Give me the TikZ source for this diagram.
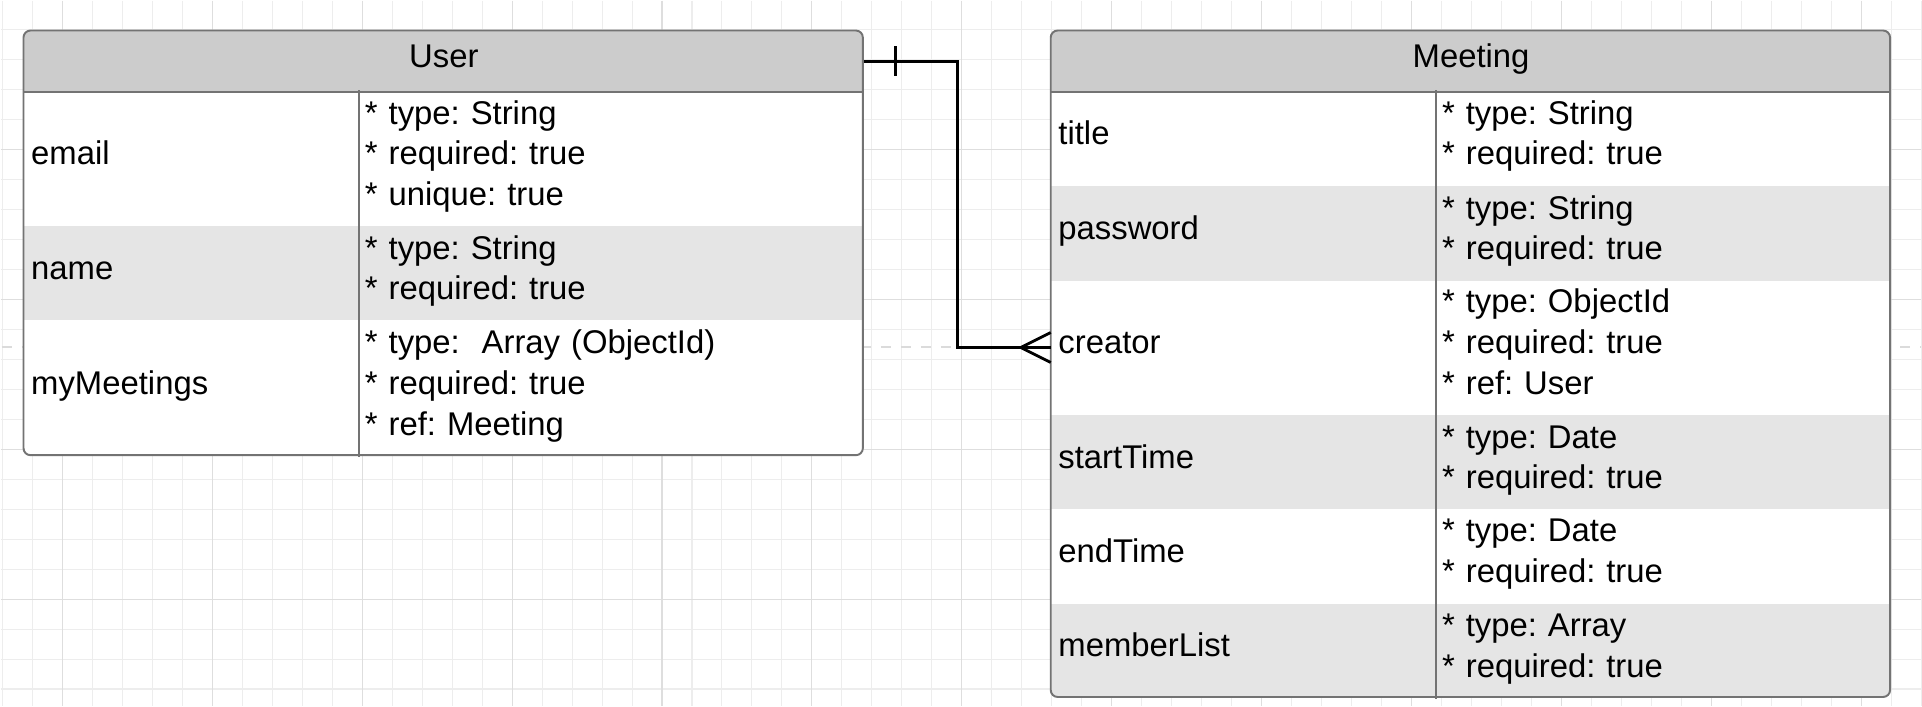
\documentclass[tikz,border=0pt]{standalone}
\usepackage{fontspec}
\setmainfont{Liberation Sans}
\frenchspacing
\begin{document}
\begin{tikzpicture}[x=.1mm, y=-.1mm,
    every node/.style={font=\fontsize{9.35}{11.55}\selectfont},
    ent/.style={draw=black!55, line width=.55pt},
    head/.style={fill=black!20, anchor=north west, inner sep=0, minimum width=84mm, minimum height=6mm, text height=2.4mm, text depth=1.2mm},
    cell/.style={anchor=north west, inner xsep=.7mm, inner ysep=0, align=left},
    ukey/.style={cell, text width=32mm, text height=2.4mm, text depth=1.2mm},
    uval/.style={cell, text width=49.2mm},
    mkey/.style={cell, text width=37mm, text height=2.4mm, text depth=1.2mm},
    mval/.style={cell, text width=44.2mm},
    two/.style={minimum height=9.45mm},
    three/.style={minimum height=13.5mm},
    twolines/.style={text height=0pt, text depth=2.82mm},
    threelines/.style={text height=0pt, text depth=6.9mm},
    shade/.style={fill=black!10},
    rel/.style={line width=.8pt},
    gridline/.style={black!7, line width=.3pt},
    gridmajor/.style={black!13, line width=.3pt}]

    % background and grid
    \fill[white] (0,0) rectangle (1922,706);
    \foreach \gx in {2,32,...,1922} \draw[gridline] (\gx,0) -- (\gx,706);
    \foreach \gy in {29,59,...,706} \draw[gridline] (0,\gy) -- (1922,\gy);
    \foreach \gx in {62,212,...,1922} \draw[gridmajor] (\gx,0) -- (\gx,706);
    \foreach \gy in {149,299,449,599} \draw[gridmajor] (0,\gy) -- (1922,\gy);
    \draw[black!14, line width=.55pt, dash pattern=on 1mm off 1mm] (1,347) -- (1922,347);

    % User
    \begin{scope}
        \clip[rounded corners=.7mm] (23,30) rectangle (863,455);
        \fill[white] (23,30) rectangle (863,455);
        \node[head] (uhead) at (23,30) {User};
        \node[ukey, three] (uemail) at (23,90) {email};
        \node[uval, three, threelines] (uemailv) at (357,90) {* type: String\\{}* required: true\\{}* unique: true};
        \node[ukey, two, shade] (uname) at (23,225) {name};
        \node[uval, two, twolines, shade] (unamev) at (357,225) {* type: String\\{}* required: true};
        \node[ukey, three] (umeet) at (23,320) {myMeetings};
        \node[uval, three, threelines] (umeetv) at (357,320) {* type:~ Array (ObjectId)\\{}* required: true\\{}* ref: Meeting};
    \end{scope}
    \draw[ent, rounded corners=.7mm] (23,30) rectangle (863,455);
    \draw[ent] (uhead.south west) -- (uhead.south east) (uemail.north east) -- (umeet.south east);

    % Meeting
    \begin{scope}
        \clip[rounded corners=.7mm] (1051,30) rectangle (1891,697);
        \fill[white] (1051,30) rectangle (1891,697);
        \node[head] (mhead) at (1051,30) {Meeting};
        \node[mkey, two] (mtitle) at (1051,90) {title};
        \node[mval, two, twolines] (mtitlev) at (1435,90) {* type: String\\{}* required: true};
        \node[mkey, two, shade] (mpass) at (1051,185) {password};
        \node[mval, two, twolines, shade] (mpassv) at (1435,185) {* type: String\\{}* required: true};
        \node[mkey, three] (mcreator) at (1051,279) {creator};
        \node[mval, three, threelines] (mcreatorv) at (1435,279) {* type: ObjectId\\{}* required: true\\{}* ref: User};
        \node[mkey, two, shade] (mstart) at (1051,414) {startTime};
        \node[mval, two, twolines, shade] (mstartv) at (1435,414) {* type: Date\\{}* required: true};
        \node[mkey, two] (mend) at (1051,508) {endTime};
        \node[mval, two, twolines] (mendv) at (1435,508) {* type: Date\\{}* required: true};
        \node[mkey, two, shade] (mmembers) at (1051,603) {memberList};
        \node[mval, two, twolines, shade] (mmembersv) at (1435,603) {* type: Array\\{}* required: true};
    \end{scope}
    \draw[ent, rounded corners=.7mm] (1051,30) rectangle (1891,697);
    \draw[ent] (mhead.south west) -- (mhead.south east) (mtitle.north east) -- (mmembers.south east);

    % one user creates many meetings
    \draw[rel] (uhead.east) -- ++(93.7,0) |- (mcreator.west);
    \draw[rel] ([shift={(31,-15)}]uhead.east) -- ([shift={(31,15)}]uhead.east);
    \draw[rel] ([shift={(0,-15)}]mcreator.west) -- ([xshift=-3mm]mcreator.west) -- ([shift={(0,15)}]mcreator.west);
\end{tikzpicture}
\end{document}
